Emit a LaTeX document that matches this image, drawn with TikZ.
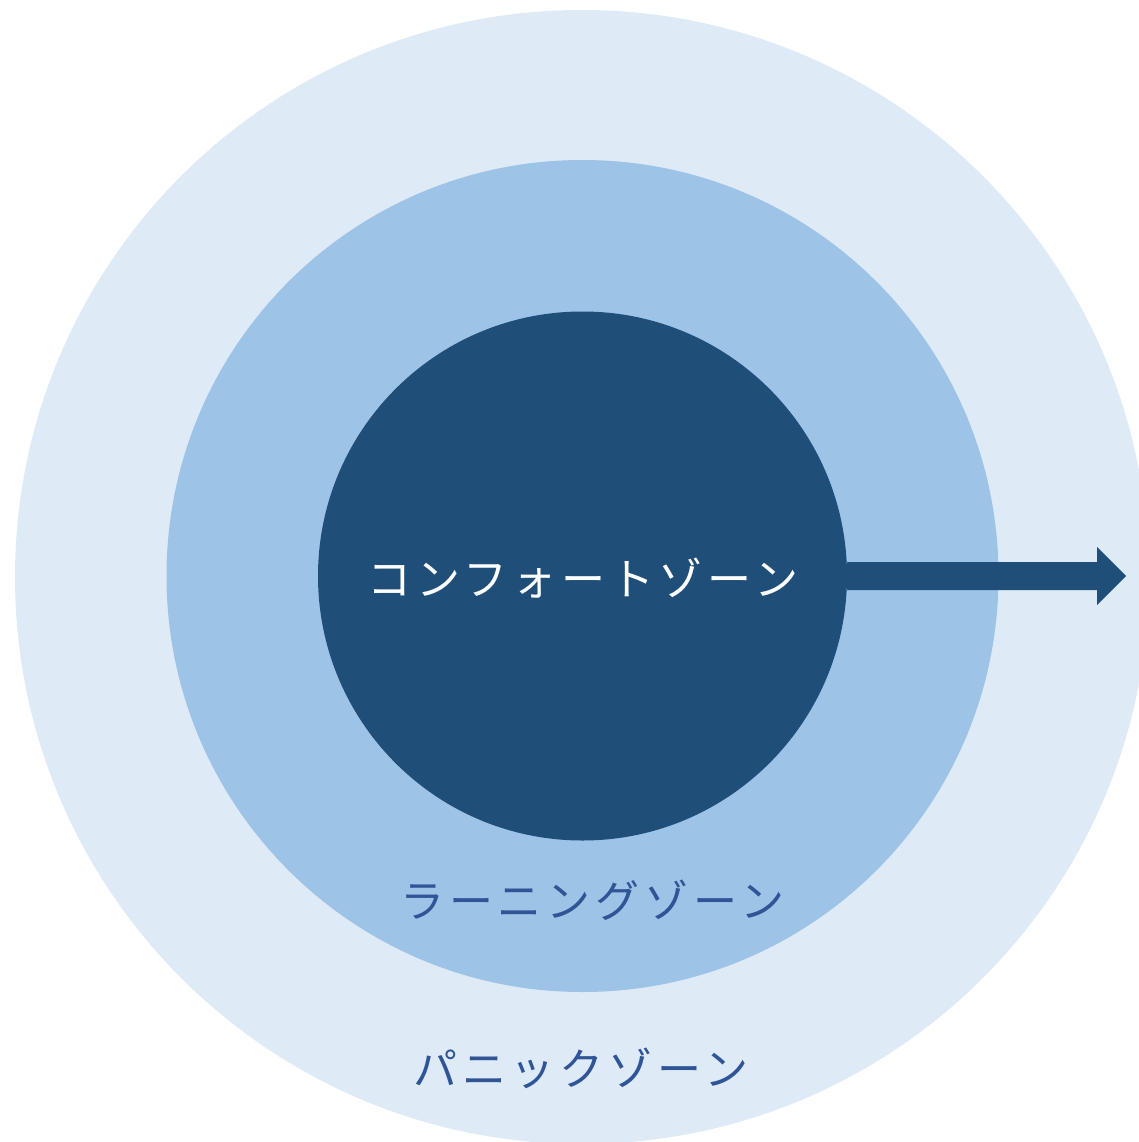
\documentclass[tikz,border=0pt]{standalone}
\usepackage{fontspec}
\newfontfamily\jp{Noto Sans CJK JP}[LetterSpace=11]
\definecolor{outerc}{HTML}{DEEAF6}
\definecolor{midc}{HTML}{9DC3E6}
\definecolor{innerc}{HTML}{1F4E79}
\definecolor{labelc}{HTML}{2F5597}
\begin{document}
\begin{tikzpicture}[x=1pt,y=-1pt,
  zone/.style={circle,inner sep=0pt,outer sep=0pt,draw=none},
  label/.style={font=\jp\fontsize{44}{52}\selectfont,inner sep=0pt,anchor=west}]
\useasboundingbox (0,0) rectangle (1138,1142);
\node[zone,fill=outerc,minimum size=1134pt] (outer) at (582,577) {};
\node[zone,fill=midc,minimum size=832pt] (middle) at (582.5,576) {};
\node[zone,fill=innerc,minimum size=529pt] (inner) at (582.5,576) {};
\fill[innerc] (inner.east) ++(0,-14) -- (1097,562) -- (1097,547) -- (1126,576) -- (1097,605) -- (1097,590) -- (inner.east |- 0,590) -- cycle;
\node[label,text=white] (comfort) at (367,578) {コンフォートゾーン};
\node[label,text=labelc] (learning) at (400,900) {ラーニングゾーン};
\node[label,text=labelc] (panic) at (413,1068) {パニックゾーン};
\end{tikzpicture}
\end{document}
